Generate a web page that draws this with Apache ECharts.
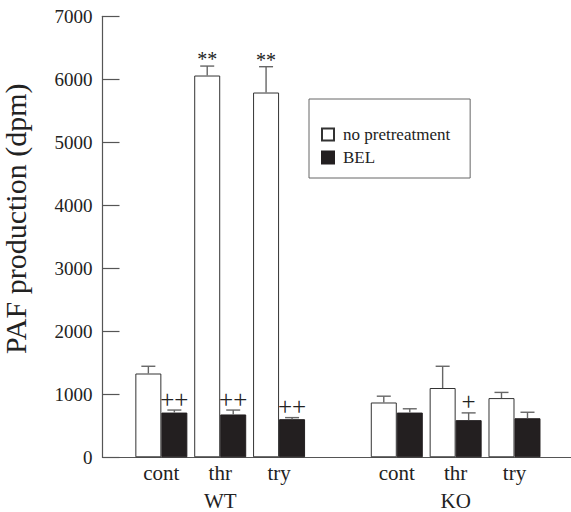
<!DOCTYPE html>
<html>
<head>
<meta charset="utf-8">
<script src="https://cdn.jsdelivr.net/npm/echarts@6/dist/echarts.min.js"></script>
<style>html,body{margin:0;padding:0;background:#fff}#c{width:571px;height:512px}</style>
</head>
<body>
<div id="c"></div>
<script>
// ---- data ----
var categories = ['cont', 'thr', 'try', '', 'cont', 'thr', 'try'];
var groups = ['WT', 'KO'];
var seriesNames = ['no pretreatment', 'BEL'];
var noPre = [1330, 6060, 5790, null, 870, 1100, 940];
var noPreErr = [115, 150, 410, null, 100, 345, 90];
var bel = [710, 680, 605, null, 710, 590, 620];
var belErr = [40, 70, 25, null, 60, 115, 95];
var noPreMarks = ['', '**', '**', '', '', '', ''];
var belMarks = ['++', '++', '++', '', '', '+', ''];
var yTicks = [0, 1000, 2000, 3000, 4000, 5000, 6000, 7000];

// ---- build ----
var FONT = '"Liberation Serif", "Times New Roman", serif';
var BAR_W = 26;
function barData(vals) {
  var out = [];
  vals.forEach(function (v, i) { if (v != null) out.push([i + 1, v]); });
  return out;
}
function errData(vals, errs, marks) {
  var out = [];
  vals.forEach(function (v, i) { if (v != null) out.push([i + 1, v, v + errs[i], marks[i]]); });
  return out;
}
function groupOf(idx) { // idx 0-based category index
  var g = Math.floor(idx / 4);
  return (idx % 4 === 1) ? groups[g] : null;
}
function errSeries(vals, errs, marks, side, markCfg) {
  return {
    type: 'custom',
    z: 5,
    itemStyle: { color: '#222' },
    data: errData(vals, errs, marks),
    renderItem: function (params, api) {
      var x = api.value(0);
      var top = api.coord([x, api.value(2)]);
      var base = api.coord([x, api.value(1)]);
      var cx = base[0] + side * BAR_W / 2;
      var children = [
        { type: 'line', shape: { x1: cx, y1: base[1], x2: cx, y2: top[1] }, style: { stroke: '#666', lineWidth: 1.4 } },
        { type: 'line', shape: { x1: cx - 7, y1: top[1], x2: cx + 7, y2: top[1] }, style: { stroke: '#666', lineWidth: 1.4 } }
      ];
      var m = marks[x - 1];
      if (m) {
        children.push({
          type: 'text',
          style: {
            text: m, x: cx, y: top[1] - markCfg.dy,
            align: 'center', verticalAlign: 'middle',
            fontSize: markCfg.size, fontFamily: FONT, fill: '#222'
          }
        });
      }
      return { type: 'group', children: children };
    }
  };
}

var chart = echarts.init(document.getElementById('c'), null, { renderer: 'svg' });
chart.setOption({
  animation: false,
  backgroundColor: '#fff',
  grid: { left: 102.5, right: 0, top: 16.3, bottom: 54.7, containLabel: false, outerBoundsMode: 'none' },
  legend: {
    data: seriesNames,
    orient: 'vertical',
    left: 309, top: 99,
    icon: 'rect',
    itemWidth: 12, itemHeight: 12, itemGap: 6,
    padding: [27, 20, 12, 12],
    borderColor: '#666', borderWidth: 1,
    textStyle: { fontSize: 17, fontFamily: FONT, color: '#222', padding: [0, 0, 0, 4] }
  },
  xAxis: {
    type: 'value', min: 0, max: 7.96, interval: 1,
    splitLine: { show: false },
    axisTick: { show: false },
    axisLine: { show: true, lineStyle: { color: '#555', width: 1.2 } },
    axisLabel: {
      showMaxLabel: false, showMinLabel: false,
      margin: 2, lineHeight: 28,
      fontSize: 21, fontFamily: FONT, color: '#222',
      formatter: function (v) {
        if (Math.abs(v - Math.round(v)) > 1e-6) return '';
        var idx = Math.round(v) - 1;
        var c = categories[idx];
        if (!c) return '';
        var g = groupOf(idx);
        return g ? c + '\n' + g : c;
      }
    }
  },
  yAxis: {
    type: 'value', min: yTicks[0], max: yTicks[yTicks.length - 1], interval: yTicks[1] - yTicks[0],
    name: 'PAF production (dpm)', nameLocation: 'middle', nameRotate: 90, nameGap: 72,
    nameTextStyle: { fontSize: 30, fontFamily: FONT, color: '#222', padding: [0, 0, 0, 36] },
    splitLine: { show: false },
    axisLine: { show: true, lineStyle: { color: '#555', width: 1.2 } },
    axisTick: { show: true, inside: true, length: 17, lineStyle: { color: '#555', width: 1.2 } },
    axisLabel: { margin: 10, fontSize: 19, fontFamily: FONT, color: '#222', formatter: function (v) { return String(v); } }
  },
  series: [
    {
      name: seriesNames[0], type: 'bar', data: barData(noPre),
      barWidth: BAR_W, barGap: '0%',
      itemStyle: { color: '#fff', borderColor: '#333', borderWidth: 1 }
    },
    {
      name: seriesNames[1], type: 'bar', data: barData(bel),
      barWidth: BAR_W, barGap: '0%',
      itemStyle: { color: '#231f20', borderColor: '#231f20', borderWidth: 1 }
    },
    errSeries(noPre, noPreErr, noPreMarks, -1, { dy: 7, size: 20 }),
    errSeries(bel, belErr, belMarks, 1, { dy: 11, size: 25 })
  ]
});
</script>
</body>
</html>
